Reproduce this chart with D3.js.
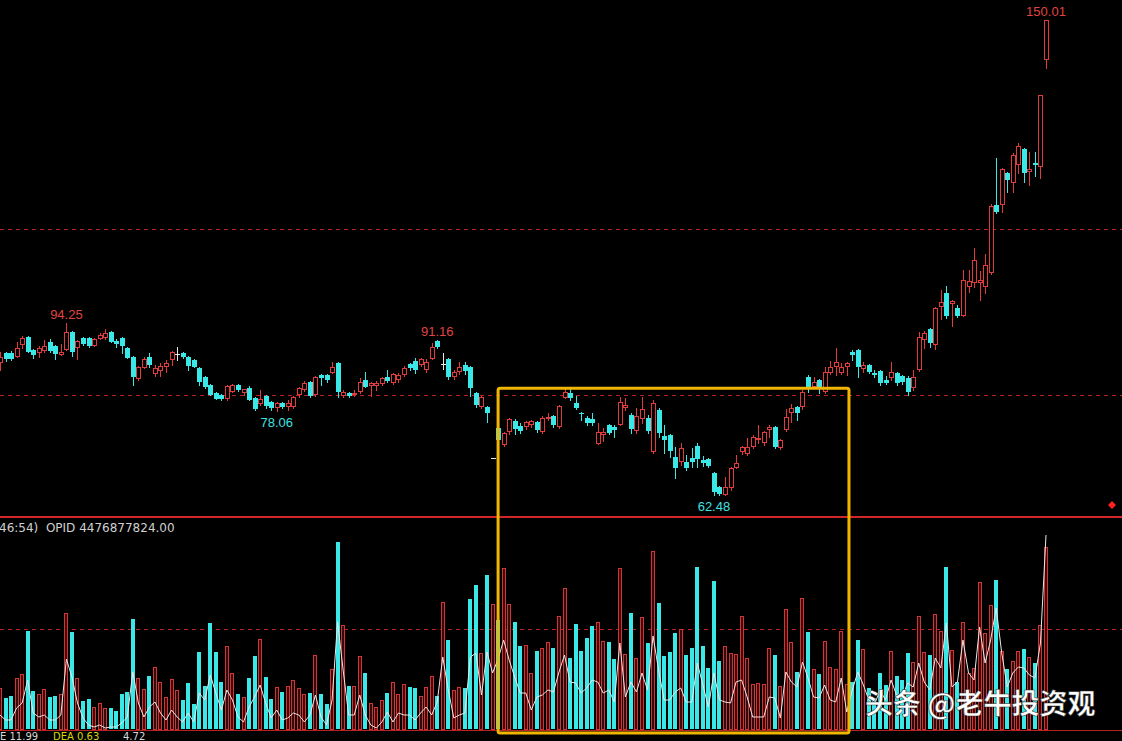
<!DOCTYPE html>
<html><head><meta charset="utf-8">
<script src="https://cdn.jsdelivr.net/npm/d3@7"></script>
<style>html,body{margin:0;padding:0;background:#000;overflow:hidden;}svg{display:block;}</style>
</head><body>
<svg id="chart" width="1122" height="741"></svg>
<script>
const opens=[86.84,88.68,88.68,87.94,90.15,91.63,89.23,88.68,89.05,90.70,89.97,88.31,89.23,92.55,89.60,91.44,91.44,89.97,91.26,91.44,
92.55,90.89,91.44,89.60,87.94,83.89,85.92,87.94,84.81,85.37,86.10,87.39,88.50,88.68,87.94,87.39,85.92,84.26,82.78,81.31,
80.94,80.20,81.49,82.78,81.31,82.23,80.39,79.28,80.76,79.65,78.55,79.47,78.73,78.73,80.94,81.86,83.33,80.94,84.63,84.63,
85.00,86.84,80.76,81.31,80.94,81.49,83.70,82.60,82.60,82.96,84.26,83.15,83.70,84.63,86.65,87.21,86.47,85.55,87.57,90.89,
86.65,87.57,84.26,85.18,86.47,86.10,81.31,78.73,78.73,69.34,74.87,71.73,74.13,76.16,75.24,75.05,75.42,75.97,74.13,76.53,
77.08,75.05,80.39,81.31,79.47,77.63,76.71,76.53,71.92,73.57,75.42,75.05,75.42,78.55,77.26,74.31,76.53,76.71,70.44,78.18,
73.39,73.57,69.52,68.60,68.60,69.34,71.55,68.97,69.15,66.58,64.00,62.53,63.82,67.50,70.44,70.08,71.37,72.65,72.10,74.50,
75.05,71.18,74.50,77.63,78.73,78.73,84.26,82.41,83.70,81.49,85.00,86.10,85.00,86.10,88.86,89.23,85.73,86.47,85.00,85.37,
83.70,84.07,85.00,84.44,84.07,82.23,85.55,91.07,93.10,90.15,97.15,99.73,97.70,96.97,95.50,100.83,101.57,101.57,100.83,103.41,
115.94,115.94,121.83,119.99,123.30,126.25,122.02,123.67,122.94,142.64];
const highs=[88.86,88.86,89.05,90.70,91.81,91.81,89.42,89.97,91.07,91.26,90.15,90.34,94.25,92.73,91.07,91.63,91.63,91.44,92.36,93.10,
92.73,91.26,91.63,89.78,88.12,86.28,87.94,88.68,86.47,86.84,87.39,89.05,89.78,88.86,88.12,87.57,86.10,84.44,82.96,81.49,
81.13,82.78,82.96,82.96,82.05,82.60,80.57,81.86,80.94,79.84,79.65,79.65,80.02,80.76,82.41,83.52,83.52,84.44,84.81,84.81,
87.02,87.02,81.86,81.49,81.86,84.07,85.18,83.33,83.52,84.26,85.55,85.00,85.00,86.28,86.84,87.76,87.76,87.57,90.52,91.16,
88.68,87.76,85.55,87.02,87.02,86.28,81.49,80.76,78.92,69.34,75.42,74.13,76.71,76.53,75.79,76.16,76.34,76.16,77.08,77.63,
77.26,79.10,82.41,82.41,80.76,77.81,77.08,77.63,75.79,74.87,75.60,75.42,80.57,80.39,77.63,78.55,80.57,77.26,80.02,78.55,
75.42,73.76,71.37,72.10,69.89,71.18,72.10,69.71,69.34,66.76,64.18,65.84,67.68,69.89,71.55,73.02,73.57,75.42,74.31,75.42,
75.24,72.84,78.37,79.28,78.92,81.86,84.63,84.26,83.89,86.10,87.21,89.60,86.84,87.02,89.23,89.42,87.02,86.65,85.55,85.55,
84.44,87.02,85.18,84.63,84.44,85.55,92.55,92.73,93.29,97.15,100.28,101.02,98.44,97.52,103.97,103.97,108.02,103.78,106.91,116.12,
124.59,122.75,122.02,125.51,127.36,126.43,125.70,125.70,136.19,150.01];
const lows=[85.55,87.21,87.39,87.94,89.60,88.86,87.76,87.94,88.86,88.86,87.57,88.31,89.23,88.12,87.57,90.15,89.78,89.97,91.26,91.26,
90.70,89.78,88.68,87.76,82.78,83.70,85.92,86.10,84.44,84.44,85.18,86.47,87.39,87.76,85.55,86.10,82.78,82.23,80.94,80.20,
80.02,80.02,81.49,81.68,80.94,80.02,78.20,79.10,78.55,78.18,78.06,78.55,78.18,78.55,80.57,81.68,80.57,80.76,82.78,83.33,
85.00,80.57,80.57,80.57,80.76,81.31,82.41,80.76,81.86,82.78,83.33,82.96,83.33,84.44,85.55,85.00,86.28,85.18,87.57,89.60,
85.73,83.89,83.89,84.81,84.81,80.76,78.73,78.55,75.97,69.34,71.73,71.55,73.76,73.76,73.94,74.68,75.05,74.13,73.94,76.34,
75.05,74.87,80.39,80.02,78.37,76.34,75.42,75.42,71.92,72.47,73.76,73.21,75.42,78.18,73.94,73.94,75.79,73.94,70.26,73.21,
70.26,69.52,65.66,68.05,67.13,67.68,67.68,67.87,67.68,62.48,62.55,62.53,63.45,67.50,70.08,69.89,71.18,72.10,71.73,73.21,
71.18,70.99,74.31,75.97,76.34,78.37,81.49,82.23,81.31,81.31,84.81,84.63,84.81,84.63,87.39,84.26,85.18,85.00,84.26,82.78,
82.96,83.70,82.78,82.96,80.94,81.86,85.37,89.60,89.78,89.42,94.95,95.13,93.66,95.32,95.50,99.91,100.83,98.44,99.73,103.23,
114.46,114.65,118.33,118.33,121.83,120.17,119.62,121.28,120.91,141.17];
const closes=[87.94,87.57,87.57,89.60,91.44,88.86,88.31,89.60,89.97,89.05,88.50,88.86,92.55,88.86,90.89,90.34,89.97,91.26,91.99,92.36,
90.70,90.34,89.97,87.76,84.26,86.10,87.57,86.47,85.92,86.28,86.84,88.86,88.50,87.94,86.28,86.10,83.33,82.41,80.94,80.20,
80.20,82.60,82.78,81.86,82.05,80.02,78.40,80.20,78.92,78.55,79.47,78.73,79.47,80.57,82.23,83.15,80.76,84.26,84.07,83.70,
86.10,81.49,81.49,80.76,81.31,83.33,82.41,83.15,83.15,84.07,83.52,84.81,84.63,85.92,85.92,85.55,87.57,87.02,89.78,89.78,
86.65,84.26,85.18,86.10,85.37,82.23,79.10,80.57,77.63,69.34,72.65,73.94,76.53,74.68,74.31,75.97,76.16,74.50,76.71,76.89,
75.42,78.92,81.49,80.39,78.55,77.45,75.79,75.79,74.13,74.13,73.94,74.50,79.65,79.10,74.68,77.08,78.37,74.31,79.47,73.94,
72.65,70.63,67.50,71.18,67.50,68.60,69.15,68.42,67.87,63.08,62.71,64.00,67.50,68.42,71.37,71.37,73.21,73.02,74.13,75.05,
71.37,72.65,76.89,78.55,77.63,81.49,82.41,83.33,82.23,85.18,86.10,87.02,86.10,86.84,88.31,86.10,86.47,85.18,84.63,83.15,
83.15,85.18,83.15,83.33,81.49,84.26,91.63,92.36,90.52,96.97,98.07,95.50,98.26,95.50,102.13,101.94,105.81,102.13,104.89,115.75,
114.65,122.57,120.54,125.15,126.80,121.83,122.57,123.30,136.19,150.01];
const volumes=[41,31,33,51,55,98,38,35,40,32,33,35,116,97,51,28,30,22,26,21,21,18,35,37,110,51,40,53,62,47,
32,50,39,29,46,25,77,43,106,77,47,83,56,35,32,51,73,90,52,30,42,37,43,49,41,35,36,74,35,25,
60,187,104,43,43,73,56,26,22,29,36,47,35,45,42,41,33,42,53,33,127,89,39,42,41,130,144,76,154,125,
109,161,125,107,83,84,56,78,81,87,81,113,141,71,105,78,91,103,107,88,87,70,161,75,116,71,112,86,178,126,
73,77,96,100,74,81,162,83,61,148,68,83,76,75,113,71,45,46,45,81,74,43,120,87,57,131,97,60,55,88,
62,60,98,45,47,89,80,41,31,56,44,78,53,49,76,67,113,77,74,115,98,162,79,47,107,56,61,147,96,124,
149,78,60,68,78,80,72,66,104,182];
const volLine=[14,9,9,21,26,49,16,12,14,9,9,14,70,52,26,11,4,2,4,1,2,2,6,12,57,26,12,22,27,16,
9,19,12,7,16,7,36,29,54,36,19,39,29,12,7,22,32,44,26,11,19,9,11,16,14,7,14,34,12,4,
29,107,59,14,14,34,14,4,1,7,17,7,16,14,14,9,16,22,14,27,72,39,11,14,16,72,76,34,77,56,
70,89,69,52,36,36,19,32,34,39,37,57,74,47,46,36,41,49,47,36,39,27,86,32,47,37,56,39,93,59,
29,29,37,41,27,27,66,44,22,56,29,27,26,47,49,32,12,12,12,32,31,11,57,47,42,67,51,32,31,44,
29,27,51,17,39,57,44,29,24,39,29,49,34,32,46,42,66,47,39,71,61,106,42,47,89,56,49,102,66,89,
121,76,42,56,62,61,54,51,86,194];
const priceGrid=[111.5,80.95];
const volGrid=[100];
const markText=["150.01","94.25","91.16","78.06","62.48"];
const markIndex=[189,12,79,50,129];
const markKind=["high","high","high","low","low"];
const boxRange=[90,153.4];
const boxTopPrice=82.2;

const RED="#e03c3c", CYAN="#3ae8e8", WHITE="#e8e8e8";
const W=1122,H=741;
const svg=d3.select("#chart");
svg.append("rect").attr("width",W).attr("height",H).attr("fill","#000");

const x=d3.scaleLinear().domain([0,opens.length-1]).range([0,1046]);
const yP=d3.scaleLinear().domain([58.48,153.69]).range([517,0]);
const yV=d3.scaleLinear().domain([0,210]).range([729,519]);

const idx=d3.range(opens.length);
const col=i=>closes[i]>opens[i]?RED:(closes[i]<opens[i]?CYAN:WHITE);
const cx=i=>Math.round(x(i));

// grid lines
const g0=svg.append("g").attr("shape-rendering","crispEdges");
g0.selectAll("line.pg").data(priceGrid).join("line")
  .attr("x1",0).attr("x2",W).attr("y1",d=>Math.round(yP(d))+0.5).attr("y2",d=>Math.round(yP(d))+0.5)
  .attr("stroke","#b82020").attr("stroke-dasharray","4,4");
g0.selectAll("line.vg").data(volGrid).join("line")
  .attr("x1",0).attr("x2",W).attr("y1",d=>Math.round(yV(d))+0.5).attr("y2",d=>Math.round(yV(d))+0.5)
  .attr("stroke","#b82020").attr("stroke-dasharray","4,4");
g0.append("line").attr("x1",0).attr("x2",W).attr("y1",517).attr("y2",517).attr("stroke","#d02828").attr("stroke-width",2);
g0.append("line").attr("x1",0).attr("x2",W).attr("y1",730.5).attr("y2",730.5).attr("stroke","#b82222");

// candles
const gc=svg.append("g").attr("shape-rendering","crispEdges");
idx.forEach(i=>{
  const c=cx(i), color=col(i);
  const yo=yP(opens[i]), yc=yP(closes[i]), yh=yP(highs[i]), yl=yP(lows[i]);
  const top=Math.round(Math.min(yo,yc)), bot=Math.round(Math.max(yo,yc));
  if(color===RED){
    gc.append("line").attr("x1",c+0.5).attr("x2",c+0.5).attr("y1",Math.round(yh)).attr("y2",top).attr("stroke",RED);
    gc.append("line").attr("x1",c+0.5).attr("x2",c+0.5).attr("y1",bot).attr("y2",Math.round(yl)+1).attr("stroke",RED);
    if(bot-top<2){
      gc.append("rect").attr("x",c-2).attr("y",top).attr("width",5).attr("height",Math.max(1,bot-top+1)).attr("fill",RED);
    } else {
      gc.append("rect").attr("x",c-1.5).attr("y",top+0.5).attr("width",4).attr("height",bot-top-1)
        .attr("fill","#000").attr("stroke",RED);
    }
  } else if(color===CYAN){
    gc.append("line").attr("x1",c+0.5).attr("x2",c+0.5).attr("y1",Math.round(yh)).attr("y2",Math.round(yl)+1).attr("stroke",CYAN);
    gc.append("rect").attr("x",c-2).attr("y",top).attr("width",5).attr("height",Math.max(1,bot-top)).attr("fill",CYAN);
  } else {
    gc.append("line").attr("x1",c+0.5).attr("x2",c+0.5).attr("y1",Math.round(yh)).attr("y2",Math.round(yl)+1).attr("stroke",WHITE);
    gc.append("rect").attr("x",c-2).attr("y",top).attr("width",5).attr("height",1).attr("fill",WHITE);
  }
});

// price marks
svg.append("g").selectAll("text").data(markText).join("text")
  .attr("x",(d,k)=>x(markIndex[k]))
  .attr("y",(d,k)=>markKind[k]==="high"?yP(highs[markIndex[k]])-4:yP(lows[markIndex[k]])+16)
  .attr("text-anchor","middle")
  .attr("font-family","'Liberation Sans',Arial,sans-serif").attr("font-size",13)
  .attr("fill",(d,k)=>markKind[k]==="high"?"#e04444":"#40e0e0")
  .text(d=>d);

// red diamond
svg.append("path").attr("d","M0,-4L4,0L0,4L-4,0Z").attr("transform","translate(1112,505)").attr("fill","#ff2020");

// volume bars
const gv=svg.append("g").attr("shape-rendering","crispEdges");
idx.forEach(i=>{
  const c=cx(i), color=col(i), yt=Math.round(yV(volumes[i])), yb=729;
  if(color===CYAN){
    gv.append("rect").attr("x",c-2).attr("y",yt).attr("width",4).attr("height",yb-yt).attr("fill",CYAN);
  } else {
    gv.append("rect").attr("x",c-1.5).attr("y",yt+0.5).attr("width",3).attr("height",yb-yt).attr("fill","#3a0808").attr("stroke","#d03636");
  }
});
// volume line
svg.append("path").datum(idx).attr("fill","none").attr("stroke","#f0e6e6").attr("stroke-width",1)
  .attr("d",d3.line().x(i=>x(i)).y(i=>yV(volLine[i])));

// texts
svg.append("text").attr("x",-1).attr("y",532).attr("font-family","'DejaVu Sans',sans-serif").attr("font-size",12)
  .attr("fill","#d0d0d0").attr("xml:space","preserve").text("46:54)  OPID 4476877824.00");
const bt=svg.append("text").attr("y",740).attr("font-family","'DejaVu Sans',sans-serif").attr("font-size",10);
bt.append("tspan").attr("x",0).attr("fill","#d8d8d8").text("E 11.99");
bt.append("tspan").attr("x",53).attr("fill","#d8d800").text("DEA 0.63");
bt.append("tspan").attr("x",123).attr("fill","#d8d8d8").text("4.72");

// annotation box
svg.append("rect").attr("x",x(boxRange[0])).attr("y",yP(boxTopPrice))
  .attr("width",x(boxRange[1])-x(boxRange[0])).attr("height",733-yP(boxTopPrice))
  .attr("rx",2).attr("fill","none").attr("stroke","#f2b600").attr("stroke-width",3);

// watermark
svg.append("text").attr("x",865).attr("y",714).attr("font-family","'Noto Sans CJK SC',sans-serif")
  .attr("font-size",28).attr("font-weight","bold").attr("fill","#ffffff")
  .attr("stroke","#333").attr("stroke-width",0.5).text("头条 @老牛投资观");
</script>
</body></html>
